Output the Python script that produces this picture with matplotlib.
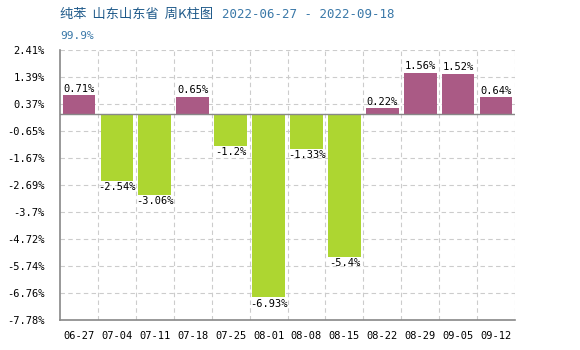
import matplotlib
matplotlib.use("Agg")
import matplotlib.pyplot as plt
import numpy as np

categories = ["06-27", "07-04", "07-11", "07-18", "07-25", "08-01", "08-08", "08-15", "08-22", "08-29", "09-05", "09-12"]
values = [0.71, -2.54, -3.06, 0.65, -1.2, -6.93, -1.33, -5.4, 0.22, 1.56, 1.52, 0.64]
labels = ["0.71%", "-2.54%", "-3.06%", "0.65%", "-1.2%", "-6.93%", "-1.33%", "-5.4%", "0.22%", "1.56%", "1.52%", "0.64%"]
ytick_vals = [2.41, 1.39, 0.37, -0.65, -1.67, -2.69, -3.7, -4.72, -5.74, -6.76, -7.78]
ytick_labels = ["2.41%", "1.39%", "0.37%", "-0.65%", "-1.67%", "-2.69%", "-3.7%", "-4.72%", "-5.74%", "-6.76%", "-7.78%"]
title = "纯苯  山东山东省  周K柱图"
date_range = "2022-06-27 - 2022-09-18"
subtitle = "99.9%"

pos_color = "#AA5A85"
neg_color = "#ADD631"
mono = ["DejaVu Sans Mono"]

fig = plt.figure(figsize=(5.8, 3.5), dpi=100)
ax = fig.add_axes([60/580, 1-320/350, 455/580, 270/350])

x = np.arange(len(categories))
colors = [pos_color if v >= 0 else neg_color for v in values]
ax.bar(x, values, width=0.86, color=colors, zorder=3)

for xi, v, lab in zip(x, values, labels):
    if v >= 0:
        ax.text(xi, v + 0.05, lab, ha="center", va="bottom", fontsize=7.5, family=mono, zorder=4)
    else:
        ax.text(xi, v - 0.05, lab, ha="center", va="top", fontsize=7.5, family=mono, zorder=4)

ax.set_xlim(-0.5, len(categories) - 0.5)
ax.set_ylim(-7.78, 2.41)
ax.set_yticks(ytick_vals)
ax.set_yticklabels(ytick_labels, family=mono, fontsize=7.5)
ax.set_xticks(x)
ax.set_xticklabels(categories, family=mono, fontsize=7.5)
ax.tick_params(length=0, pad=8)
ax.tick_params(axis="y", pad=11)

for b in np.arange(0.5, len(categories) + 0.5, 1.0):
    ax.axvline(b, color="#cccccc", linestyle=(0, (4, 3)), linewidth=0.8, zorder=1)
for t in ytick_vals:
    ax.axhline(t, color="#cccccc", linestyle=(0, (4, 3)), linewidth=0.8, zorder=1)
ax.axhline(0, color="#888888", linewidth=1.0, zorder=4)

for s in ["top", "right"]:
    ax.spines[s].set_visible(False)
for s in ["left", "bottom"]:
    ax.spines[s].set_color("#888888")
    ax.spines[s].set_linewidth(1.2)

fig.text(60/580, 1-14/350, title, family=["Noto Sans CJK SC", "DejaVu Sans"], fontsize=9.5, color="#1f5a8a", va="center", ha="left")
fig.text(222/580, 1-14/350, date_range, family=mono, fontsize=9, color="#3a78a8", va="center", ha="left")
fig.text(60/580, 1-36/350, subtitle, family=mono, fontsize=8, color="#3a78a8", va="center", ha="left")

fig.savefig("out.png", dpi=100)
